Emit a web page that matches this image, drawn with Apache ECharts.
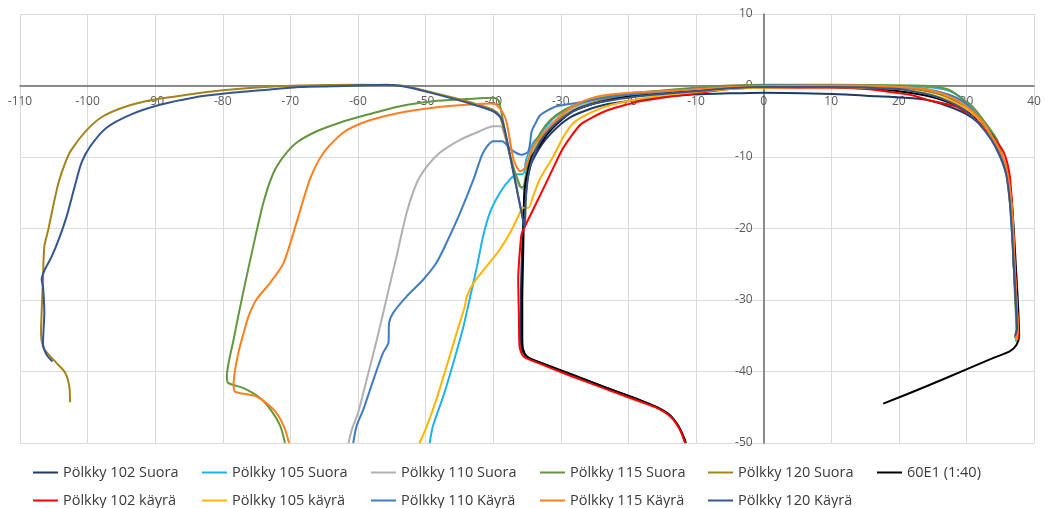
<!DOCTYPE html>
<html>
<head>
<meta charset="utf-8">
<script src="https://cdn.jsdelivr.net/npm/echarts@6/dist/echarts.min.js"></script>
<style>
  html, body { margin: 0; padding: 0; background: #fff; }
  #chart { width: 1045px; height: 508px; }
</style>
</head>
<body>
<div id="chart"></div>
<script>
// Profile traces [x, y] in mm
const s102 = [[37.5,-35],[37.3,-30],[37,-25],[36.8,-20],[36.5,-16],[36,-12.5],[35.2,-10],[33.8,-7.5],[32,-5.4],[30,-4],[27,-2.8],[24,-2],[20.7,-1.7],[16.7,-1.5],[10.3,-1.2],[0,-1.0],[-5,-1.1],[-10.9,-1.3],[-15,-1.6],[-18.3,-2],[-23,-2.6],[-26,-3.4],[-28.5,-4.4],[-30.6,-5.9],[-32.2,-7.5],[-33.3,-9],[-34.4,-11],[-35,-13.3],[-35.4,-16],[-35.6,-20],[-35.8,-25],[-35.9,-30],[-35.9,-35],[-35.8,-36.8],[-35.1,-37.9],[-33.5,-38.6],[-28.4,-40.4],[-23.2,-42.3],[-18.3,-44],[-15.8,-45],[-13.9,-46.1],[-12.5,-47.8],[-11.8,-49.4],[-11.6,-50]];
const s105 = [[37.3,-35.8],[37.5,-34.5],[37.3,-30],[37,-25],[36.7,-20],[36.4,-16],[36,-12.5],[35.3,-10],[34,-7.5],[32.3,-5],[30.5,-3],[29,-1.5],[27,-0.6],[24,-0.2],[20,-0.1],[10,0],[0,0],[-5,-0.1],[-10,-0.4],[-15,-0.8],[-20,-1.3],[-24,-1.9],[-27,-2.6],[-29.1,-3.4],[-31,-4.5],[-32.1,-5.7],[-33.1,-7.0],[-34.1,-8.0],[-35.1,-10.3],[-35.6,-12.4],[-36.5,-12.4],[-37.5,-13.1],[-39,-15],[-40.5,-17.8],[-41.5,-21.1],[-42.4,-25.3],[-43.4,-29.5],[-44.4,-33.7],[-45.9,-38.8],[-47.4,-43.5],[-48.9,-47.6],[-49.4,-50]];
const s110 = [[37.2,-35.4],[37.5,-34.2],[37.3,-30],[37,-25],[36.8,-20],[36.5,-16],[36,-12.3],[35.2,-9.8],[34,-7.4],[32.2,-4.9],[30.3,-3],[28.5,-1.8],[26,-0.9],[23,-0.4],[20,-0.2],[10,0],[0,0],[-5,-0.2],[-10,-0.5],[-15,-0.9],[-20,-1.4],[-24,-2],[-27,-2.8],[-29.5,-3.9],[-31.5,-5.4],[-33,-7.2],[-34.2,-9.6],[-35,-12.5],[-35.5,-14.5],[-36.2,-14],[-37.5,-9.8],[-38.6,-6],[-39,-5.7],[-40,-5.7],[-42,-6.4],[-44.9,-7.6],[-47.9,-9.4],[-49.8,-11.3],[-51.3,-13.6],[-52.8,-17.8],[-54.3,-23.9],[-55.8,-29.9],[-57.2,-35.5],[-58.7,-41.1],[-60,-45.8],[-60.9,-48.1],[-61.4,-50]];
const s115 = [[37.2,-35.3],[37.4,-34],[37.2,-30],[37,-25],[36.8,-20],[36.5,-16],[36,-12],[35.2,-9.5],[34.5,-7.5],[32,-4.2],[30.5,-2.6],[29.1,-1.7],[28,-0.9],[27.1,-0.5],[25,-0.1],[22,0],[10,0.1],[0,0.1],[-5,0],[-10,-0.3],[-15,-0.7],[-20,-1.1],[-24,-1.7],[-27,-2.4],[-29.5,-3.4],[-31.5,-4.8],[-33,-6.6],[-34.2,-8.8],[-35,-11.5],[-35.6,-14.2],[-36,-14.1],[-37.5,-9.9],[-38.5,-5.2],[-39.2,-2.1],[-40,-1.7],[-43.9,-1.9],[-48.9,-2.2],[-53.8,-2.9],[-58.7,-4.1],[-62.7,-5.2],[-66.1,-6.4],[-69.1,-8.0],[-71,-9.9],[-72.5,-12.2],[-74,-16.4],[-75.5,-22.5],[-77,-29],[-78.4,-35.5],[-79.4,-40.7],[-79.2,-41.6],[-77,-42.3],[-74.5,-43.7],[-72.8,-45.5],[-71.5,-47.6],[-70.8,-50]];
const s120 = [[37.3,-35.2],[37.5,-34],[37.3,-30],[37,-25],[36.8,-20],[36.4,-16],[35.9,-12.4],[35.1,-9.9],[33.8,-7.5],[32,-5.1],[30,-3.3],[28,-2.0],[25.5,-1.1],[23,-0.6],[20,-0.3],[10,0],[0,0],[-5,-0.2],[-10,-0.6],[-15,-1],[-20,-1.5],[-24,-2.1],[-27,-3],[-29.5,-4.2],[-31.5,-5.8],[-33,-7.6],[-34.2,-10],[-34.9,-13],[-35.2,-16],[-35.3,-19.7],[-36,-16.9],[-37.5,-9.9],[-39,-4.3],[-40,-3.4],[-43.9,-2.2],[-48.9,-1],[-53.8,0],[-60,0.1],[-68.6,0],[-75.5,-0.3],[-80.4,-0.7],[-85.3,-1.3],[-90.3,-2.0],[-94.2,-2.9],[-97.7,-4.3],[-100.1,-6.2],[-102.4,-9.0],[-103.3,-10.8],[-104.3,-13.6],[-105.1,-16.9],[-105.8,-20.1],[-106.4,-22.5],[-106.6,-27.1],[-106.8,-31.8],[-106.9,-34.6],[-106.6,-36.5],[-105.8,-37.6],[-104.6,-38.8],[-103.3,-40.2],[-102.7,-42.1],[-102.6,-44.3]];
const rail60E1 = [[17.7,-44.5],[24,-42.1],[30,-39.7],[34,-38.1],[36.4,-37.2],[37.4,-36.3],[37.8,-35],[37.6,-30],[37.3,-25],[37,-20],[36.7,-16],[36.2,-12.5],[35.3,-9.8],[34,-7.2],[32,-5],[29.5,-3.3],[27,-2.2],[24,-1.4],[20,-0.8],[15,-0.4],[10,-0.2],[0,-0.1],[-5,-0.2],[-10,-0.6],[-15,-1],[-18.3,-1.3],[-21,-1.7],[-23.2,-2.1],[-26,-2.8],[-28.2,-3.6],[-30.6,-5.4],[-32,-6.8],[-33.1,-8.3],[-34.3,-10],[-35,-12.5],[-35.4,-15],[-35.5,-20],[-35.6,-25],[-35.7,-30],[-35.7,-35],[-35.6,-36.8],[-35,-37.9],[-33.5,-38.6],[-28.4,-40.4],[-23.2,-42.3],[-18.3,-44],[-15.8,-45],[-13.9,-46.1],[-12.5,-47.8],[-11.7,-49.4],[-11.5,-50]];
const k102 = [[37.7,-35.5],[37.7,-34.6],[37.4,-30],[37.2,-25.3],[36.9,-20],[36.7,-15.9],[36.4,-12.5],[35.8,-10],[35,-8.5],[33,-6.2],[31.5,-4.5],[30,-3.8],[28.6,-3],[27.1,-2.6],[24.6,-2.1],[22.1,-1.4],[20.2,-1.1],[17.2,-0.7],[15.3,-0.5],[10.3,-0.3],[5,-0.3],[0,-0.3],[-5,-0.5],[-10.9,-1.2],[-15,-1.7],[-18.3,-2.2],[-20,-2.6],[-23.2,-3.5],[-25,-4.3],[-27,-5.4],[-28.4,-7],[-29.8,-9],[-31.6,-12.5],[-33.6,-16.4],[-35.3,-19.7],[-35.8,-20.8],[-36,-22.5],[-36.2,-25],[-36.3,-27.1],[-36.2,-32],[-36.1,-36.5],[-35.5,-37.9],[-33.1,-38.9],[-28.6,-40.6],[-23.2,-42.5],[-18.3,-44.2],[-15.8,-45.1],[-13.8,-46.3],[-12.4,-48.1],[-11.6,-50]];
const k105 = [[37.4,-35.6],[37.6,-34.3],[37.4,-30],[37.1,-25],[36.9,-20],[36.6,-16],[36.1,-12.5],[35.4,-10],[34.2,-7.8],[32.3,-5.2],[30.5,-3.6],[28.5,-2.5],[26,-1.6],[23,-0.9],[20,-0.5],[15,-0.3],[10,-0.2],[0,-0.3],[-5,-0.5],[-10.9,-1.0],[-15,-1.4],[-19,-2],[-23.2,-2.9],[-26,-4],[-28.1,-5.2],[-29.5,-7],[-31.1,-9.9],[-33.1,-13.1],[-34.1,-15.5],[-34.8,-17.1],[-35.6,-17.1],[-36.3,-18.3],[-37.5,-20.6],[-39,-22.9],[-41,-25.3],[-42.9,-27.6],[-43.9,-29.5],[-44.2,-30.9],[-45.4,-34.6],[-46.9,-39.3],[-48.4,-43.9],[-49.8,-47.6],[-50.9,-50]];
const k110 = [[37.2,-35.2],[37.5,-34],[37.3,-30],[37,-25],[36.8,-20],[36.5,-16],[36,-12.5],[35.2,-9.8],[34,-7.4],[32.3,-5],[30.5,-3],[28.5,-1.7],[26,-0.9],[23,-0.4],[20,-0.2],[10,0],[0,0],[-5,-0.2],[-10,-0.5],[-15,-0.9],[-20,-1.3],[-24,-1.8],[-27.5,-2.4],[-30.6,-2.9],[-32,-3.5],[-33.1,-4.2],[-33.8,-5.4],[-34.3,-6.4],[-34.8,-9.2],[-35.8,-9.7],[-37.3,-9.0],[-38.7,-7.8],[-40,-7.8],[-41.5,-9.4],[-42.9,-13.1],[-44.9,-17.8],[-46.9,-22],[-48.4,-24.8],[-50.3,-27.1],[-52.8,-29.5],[-54.8,-31.8],[-55.4,-33.2],[-55.5,-36],[-56.3,-37.4],[-57.7,-41.1],[-59.2,-45.3],[-60.2,-47.6],[-60.7,-50]];
const k115 = [[37.3,-35.5],[37.6,-34.2],[37.4,-30],[37.1,-25],[36.9,-20],[36.6,-16],[36.1,-12.5],[35.4,-10],[34.2,-7.8],[32.5,-5.2],[30.5,-3.3],[28.5,-2],[26,-1],[23,-0.4],[20,-0.2],[15,0],[10,0],[0,-0.1],[-5,-0.2],[-10.9,-0.6],[-15,-0.8],[-19.8,-1.0],[-23,-1.3],[-25.2,-1.7],[-27.2,-2.4],[-29,-3.4],[-30.1,-4.3],[-31.6,-5.8],[-33.1,-7.3],[-34.1,-8.5],[-34.8,-10.3],[-35.3,-11.5],[-36,-12],[-37,-10.3],[-38,-5.2],[-38.7,-3.6],[-40,-2.5],[-43.9,-2.7],[-48.9,-3.1],[-53.8,-3.8],[-58.7,-5.0],[-62.2,-6.6],[-65.1,-9.4],[-67.1,-13.1],[-69.1,-19.2],[-71,-24.8],[-73,-27.6],[-75,-29.9],[-76,-31.8],[-76.5,-33.2],[-77.7,-37.4],[-78.4,-41.8],[-78.2,-42.8],[-75,-43.5],[-72.5,-45.3],[-71,-47.6],[-70.2,-50]];
const k120 = [[37.2,-35.0],[37.5,-34],[37.3,-30],[37,-25],[36.7,-20],[36.4,-16],[35.9,-12.5],[35,-10],[33.7,-7.6],[31.8,-5.3],[29.8,-3.5],[27.5,-2.3],[25,-1.4],[22,-0.8],[20,-0.5],[10,-0.2],[0,-0.2],[-5,-0.4],[-10,-0.8],[-15,-1.2],[-20,-1.7],[-24,-2.3],[-27,-3.1],[-29.5,-4.4],[-31.5,-6],[-33,-7.8],[-34.2,-10.2],[-34.9,-13.2],[-35.2,-16.2],[-35.4,-19.7],[-35.8,-17.8],[-37.3,-10.8],[-38.7,-4.8],[-40,-3.6],[-43.9,-2.4],[-48.9,-1.1],[-52.8,-0.2],[-55.8,0.1],[-63.7,-0.1],[-68.6,-0.2],[-73.5,-0.6],[-79.4,-1.1],[-84.4,-1.7],[-89.3,-2.7],[-93.7,-4.1],[-97.2,-5.9],[-99.6,-8.5],[-100.9,-10.8],[-101.9,-14.1],[-103.1,-18.3],[-104.1,-21.1],[-105.3,-23.9],[-106.3,-25.7],[-106.8,-27.1],[-106.6,-28.1],[-106.4,-31.8],[-106.6,-36.0],[-106.1,-37.6],[-105.2,-38.6]];

const seriesNames = ['Pölkky 102 Suora','Pölkky 105 Suora','Pölkky 110 Suora','Pölkky 115 Suora','Pölkky 120 Suora','60E1 (1:40)',
                     'Pölkky 102 käyrä','Pölkky 105 käyrä','Pölkky 110 Käyrä','Pölkky 115 Käyrä','Pölkky 120 Käyrä'];
const seriesData = [s102, s105, s110, s115, s120, rail60E1, k102, k105, k110, k115, k120];
const seriesColors = ['#1F3864','#1DB1EF','#B0B0B0','#62973F','#A2841A','#000000',
                      '#FF0000','#FFB400','#3F7CC1','#FF7F1E','#34558F'];

const xTicks = { min: -110, max: 40, step: 10 };
const yTicks = { min: -50, max: 10, step: 10 };

// Legend laid out as six columns, two rows
const legendColumns = [[0, 6], [1, 7], [2, 8], [3, 9], [4, 10], [5]];
const legendLeft = [33, 202, 371, 540, 708, 877];

const chart = echarts.init(document.getElementById('chart'), null, { renderer: 'canvas' });

const fontFamily = '"Open Sans", "Noto Sans", sans-serif';
const axisLineStyle = { color: '#6a6a6a', width: 1.5 };

chart.setOption({
  animation: false,
  backgroundColor: '#ffffff',
  grid: { left: 20, right: 11, top: 14, bottom: 65, containLabel: false, outerBoundsMode: 'none' },
  legend: legendColumns.map((col, i) => ({
    orient: 'vertical',
    left: legendLeft[i],
    top: 465,
    padding: 0,
    itemGap: 13,
    itemWidth: 25,
    itemHeight: 2,
    icon: 'rect',
    data: col.map(j => seriesNames[j]),
    textStyle: { fontFamily, fontSize: 14.5, color: '#3a3a3a', lineHeight: 14 }
  })),
  xAxis: {
    type: 'value',
    position: 'bottom',
    min: xTicks.min, max: xTicks.max, interval: xTicks.step,
    axisLine: { onZero: false, lineStyle: axisLineStyle },
    axisTick: { show: false },
    axisLabel: { margin: 10, fontFamily, fontSize: 12, color: '#595959' },
    splitLine: { show: true, lineStyle: { color: '#DADADA', width: 1 } }
  },
  yAxis: {
    type: 'value',
    position: 'left',
    min: yTicks.min, max: yTicks.max, interval: yTicks.step,
    axisLine: { onZero: false, lineStyle: axisLineStyle },
    axisTick: { show: false },
    axisLabel: { margin: 11, fontFamily, fontSize: 12, color: '#595959' },
    splitLine: { show: true, lineStyle: { color: '#DADADA', width: 1 } }
  },
  series: seriesNames.map((name, i) => ({
    name,
    type: 'line',
    data: seriesData[i],
    symbol: 'none',
    showSymbol: false,
    smooth: 0.25,
    clip: true,
    color: seriesColors[i],
    lineStyle: { color: seriesColors[i], width: 2 }
  }))
});

// Move both axes (line and labels) so they cross at the origin
const origin = chart.convertToPixel({ gridIndex: 0 }, [0, 0]);
const corner = chart.convertToPixel({ gridIndex: 0 }, [xTicks.min, yTicks.min]);
chart.setOption({
  xAxis: { offset: -(corner[1] - origin[1]) },
  yAxis: { offset: -(origin[0] - corner[0]) }
});
</script>
</body>
</html>
